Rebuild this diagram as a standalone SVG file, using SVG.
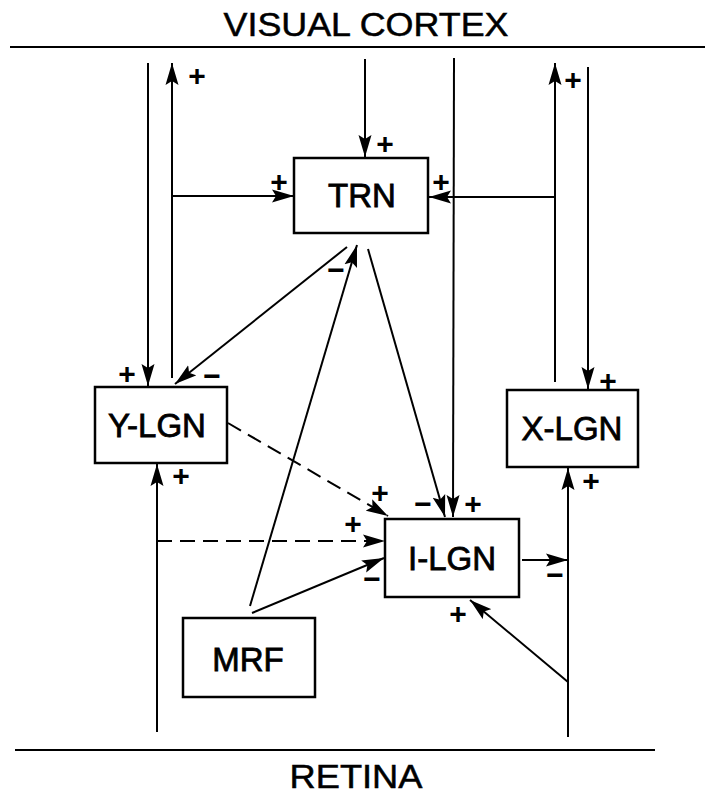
<svg xmlns="http://www.w3.org/2000/svg" width="705" height="796" viewBox="0 0 705 796">
<defs>
<marker id="arr" markerUnits="userSpaceOnUse" markerWidth="24" markerHeight="14" refX="22" refY="7" orient="auto">
<path d="M0,0.5 L22,7 L0,13.5 L4,7 z" fill="#000"/>
</marker>
<style>
.box{fill:#fff;stroke:#000;stroke-width:2.5}
.lbl{font-family:"Liberation Sans",Arial,sans-serif;font-size:33px;fill:#000;stroke:#000;stroke-width:0.8;text-anchor:middle}
.ttl{font-family:"Liberation Sans",Arial,sans-serif;font-size:33px;fill:#000;stroke:#000;stroke-width:0.5;text-anchor:middle}
.sg{font-family:"Liberation Sans",Arial,sans-serif;font-size:30px;font-weight:bold;fill:#000;text-anchor:middle}
.ln{stroke:#000;stroke-width:2;fill:none}
.ar{marker-end:url(#arr)}
.dash{stroke-dasharray:15 8}
</style>
</defs>
<rect width="705" height="796" fill="#fff"/>
<g id="cortex">
<text class="ttl" x="366" y="36" textLength="285" lengthAdjust="spacingAndGlyphs">VISUAL CORTEX</text>
<line x1="10" y1="47" x2="705" y2="47" stroke="#000" stroke-width="2"/>
</g>
<g id="retina">
<line x1="15" y1="750" x2="655" y2="750" stroke="#000" stroke-width="2"/>
<text class="ttl" x="356" y="788" textLength="133" lengthAdjust="spacingAndGlyphs">RETINA</text>
</g>
<g id="connectors">
<line class="ln ar" x1="148" y1="63" x2="148" y2="386"/>
<line class="ln ar" x1="172" y1="378" x2="172" y2="63"/>
<line class="ln ar" x1="172" y1="196" x2="294" y2="196"/>
<line class="ln ar" x1="365" y1="59" x2="365" y2="157"/>
<line class="ln ar" x1="454" y1="58" x2="453" y2="517"/>
<line class="ln ar" x1="555" y1="382" x2="555" y2="63"/>
<line class="ln ar" x1="555" y1="197" x2="429" y2="197"/>
<line class="ln ar" x1="588" y1="67" x2="588" y2="389"/>
<line class="ln ar" x1="347" y1="247" x2="175" y2="384"/>
<line class="ln ar" x1="368" y1="249" x2="445" y2="517"/>
<line class="ln ar" x1="250" y1="606" x2="357" y2="245"/>
<line class="ln ar" x1="252" y1="613" x2="384" y2="558"/>
<line class="ln ar dash" x1="228" y1="423" x2="388" y2="516"/>
<line class="ln ar" x1="157" y1="732" x2="157" y2="464"/>
<line class="ln ar dash" x1="157" y1="541" x2="385" y2="541"/>
<line class="ln ar" x1="568" y1="737" x2="568" y2="468"/>
<line class="ln ar" x1="522" y1="560" x2="568" y2="560"/>
<line class="ln ar" x1="568" y1="682" x2="470" y2="600"/>
</g>
<g id="TRN">
<rect class="box" x="294" y="158" width="134" height="75"/>
<text class="lbl" x="362" y="207">TRN</text>
</g>
<g id="Y-LGN">
<rect class="box" x="95" y="387" width="132" height="76"/>
<text class="lbl" x="157" y="437">Y-LGN</text>
</g>
<g id="X-LGN">
<rect class="box" x="507" y="390" width="131" height="77"/>
<text class="lbl" x="572" y="440">X-LGN</text>
</g>
<g id="I-LGN">
<rect class="box" x="385" y="519" width="134" height="78"/>
<text class="lbl" x="452" y="570">I-LGN</text>
</g>
<g id="MRF">
<rect class="box" x="183" y="618" width="132" height="79"/>
<text class="lbl" x="248" y="671">MRF</text>
</g>
<g id="signs">
<text class="sg" x="197" y="86">+</text>
<text class="sg" x="279" y="192">+</text>
<text class="sg" x="385" y="154">+</text>
<text class="sg" x="441" y="192">+</text>
<text class="sg" x="573" y="90">+</text>
<text class="sg" x="127" y="384">+</text>
<text class="sg" x="181" y="486">+</text>
<text class="sg" x="608" y="391">+</text>
<text class="sg" x="591" y="491">+</text>
<text class="sg" x="380" y="503">+</text>
<text class="sg" x="473" y="514">+</text>
<text class="sg" x="353" y="534">+</text>
<text class="sg" x="458" y="624">+</text>
<text class="sg" x="212" y="386">−</text>
<text class="sg" x="336" y="280">−</text>
<text class="sg" x="423" y="514">−</text>
<text class="sg" x="372" y="589">−</text>
<text class="sg" x="555" y="585">−</text>
</g>
</svg>
